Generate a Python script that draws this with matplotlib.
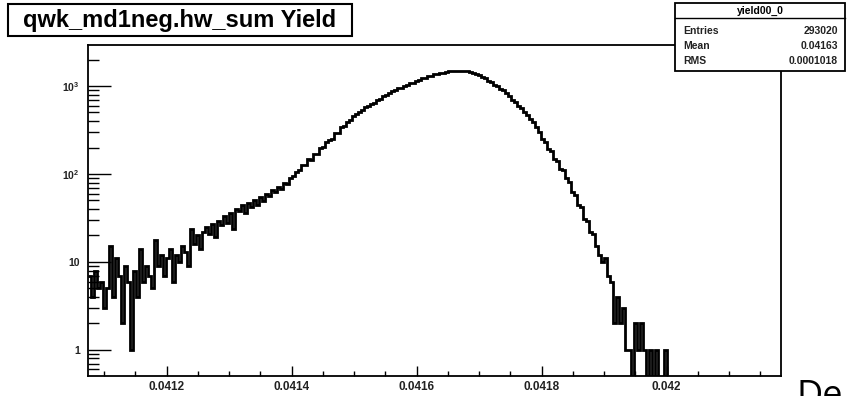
import numpy as np
import matplotlib
matplotlib.use("Agg")
import matplotlib.pyplot as plt
from matplotlib.patches import Rectangle
from matplotlib.ticker import FixedLocator, FixedFormatter

plt.rcParams['font.family'] = ['Liberation Sans', 'DejaVu Sans']
plt.rcParams['mathtext.fontset'] = 'custom'
plt.rcParams['mathtext.rm'] = 'Liberation Sans'
plt.rcParams['mathtext.bf'] = 'Liberation Sans:bold'

# ---------------- data ----------------
title = "qwk_md1neg.hw_sum Yield"
stats_name = "yield00_0"
stats_labels = ["Entries", "Mean", "RMS"]
stats_values = ["293020", "0.04163", "0.0001018"]

x_min, x_max = 0.0410741, 0.0421829
n_bins = 231
counts_read = [
    7, 4, 8, 5, 6, 3, 5, 15, 4, 11,
    7, 2, 9, 6, 1, 8, 4, 14, 6, 9,
    7, 5, 18, 9, 12, 7, 11, 14, 6, 12,
    10, 15, 13, 9, 24, 16, 20, 14, 22, 25,
    21, 27, 19, 29, 26, 33, 28, 36, 24, 40,
    38, 44, 36, 47, 42, 51, 45, 55, 49, 60,
    56, 66, 63, 72, 68, 80, 77, 90, 94, 104,
    112, 128, 127, 148, 146, 168, 170, 196, 201, 228,
    243, 252, 289, 296, 338, 349, 393, 410, 462, 480,
    512, 528, 570, 585, 630, 648, 697, 718, 770, 792,
    835, 880, 898, 950, 958, 1010, 1022, 1075, 1088, 1140,
    1160, 1218, 1232, 1290, 1298, 1352, 1362, 1415, 1418, 1460,
    1475, 1470, 1498, 1482, 1490, 1478, 1470, 1438, 1418, 1368,
    1320, 1255, 1220, 1142, 1098, 1025, 990, 928, 892, 832,
    772, 695, 662, 598, 565, 505, 472, 418, 390, 340,
    300, 252, 230, 190, 182, 148, 142, 115, 112, 90,
    82, 63, 58, 44, 42, 31, 29, 22, 21, 15,
    12, 10, 11, 7, 6, 2, 4, 2, 3, 1,
    1, 0, 2, 1, 2, 1, 0, 1, 0, 1,
    0, 0, 1,
]
counts = counts_read + [0] * (n_bins - len(counts_read))

xticks = [0.0412, 0.0414, 0.0416, 0.0418, 0.0420]
xtick_labels = ["0.0412", "0.0414", "0.0416", "0.0418", "0.042"]
yticks = [1, 10, 100, 1000]
ytick_labels = ["1", "10", r"$\mathbf{10^{2}}$", r"$\mathbf{10^{3}}$"]
y_min, y_max = 0.51, 2924

# ---------------- figure ----------------
W, H = 849, 396
fig = plt.figure(figsize=(W / 100, H / 100), dpi=100)
fig.patch.set_facecolor('white')

def fx(px):
    return px / W

def fy(py):
    return 1 - py / H

ax = fig.add_axes([fx(88), fy(375.7), fx(781 - 88), (375.7 - 45) / H])
edges = np.linspace(x_min, x_max, n_bins + 1)
vals = np.array(counts, dtype=float)
vals = np.where(vals > 0, vals, 1e-3)
ax.stairs(vals, edges, color='black', lw=2.0, baseline=None)

ax.set_yscale('log')
ax.set_xlim(x_min, x_max)
ax.set_ylim(y_min, y_max)

ax.xaxis.set_major_locator(FixedLocator(xticks))
ax.xaxis.set_major_formatter(FixedFormatter(xtick_labels))
ax.xaxis.set_minor_locator(FixedLocator(np.arange(0.04110, 0.04220, 0.00005)))
ax.yaxis.set_major_locator(FixedLocator(yticks))
ax.yaxis.set_major_formatter(FixedFormatter(ytick_labels))
minor_y = [m * 10.0 ** e for e in range(-1, 4) for m in range(2, 10)]
ax.yaxis.set_minor_locator(FixedLocator(minor_y))
ax.yaxis.set_minor_formatter(FixedFormatter([''] * len(minor_y)))

ax.tick_params(axis='x', which='major', direction='in', length=7.5, width=1.0,
               labelsize=8.5, pad=3.5, labelcolor='#222')
ax.tick_params(axis='x', which='minor', direction='in', length=3.6, width=1.0)
ax.tick_params(axis='y', which='major', direction='in', length=16.5, width=1.0,
               labelsize=7.5, pad=6, labelcolor='#222')
ax.tick_params(axis='y', which='minor', direction='in', length=8, width=1.0)
for lab in ax.get_xticklabels() + ax.get_yticklabels():
    lab.set_fontweight('bold')
for s in ax.spines.values():
    s.set_linewidth(1.3)

# title box
fig.add_artist(Rectangle((fx(8), fy(36)), fx(352 - 8), (36 - 4) / H,
                         transform=fig.transFigure, facecolor='white',
                         edgecolor='black', lw=1.5, zorder=5))
fig.text(fx(180), fy(20), title, ha='center', va='center', fontsize=17,
         fontweight='bold', zorder=6)

# stats box
fig.add_artist(Rectangle((fx(675), fy(71)), fx(845 - 675), (71 - 3) / H,
                         transform=fig.transFigure, facecolor='white',
                         edgecolor='black', lw=1.3, zorder=5))
fig.add_artist(plt.Line2D([fx(675), fx(845)], [fy(17.5), fy(17.5)],
                          transform=fig.transFigure, color='black', lw=1.0, zorder=6))
fig.text(fx(760), fy(10.5), stats_name, ha='center', va='center', fontsize=7.5,
         fontweight='bold', zorder=6)
row_y = [31, 46, 61]
for lab, val, yy in zip(stats_labels, stats_values, row_y):
    fig.text(fx(683), fy(yy), lab, ha='left', va='center', fontsize=7.5,
             fontweight='bold', zorder=6, color='#222')
    fig.text(fx(838), fy(yy), val, ha='right', va='center', fontsize=7.5,
             fontweight='bold', zorder=6, color='#222')

# stray text at bottom right (cut off by the edge, as in the reference)
fig.text(fx(797), fy(406), "De", ha='left', va='baseline', fontsize=26,
         family=['Open Sans', 'DejaVu Sans'], color='black')

fig.savefig('out.png', dpi=100)
